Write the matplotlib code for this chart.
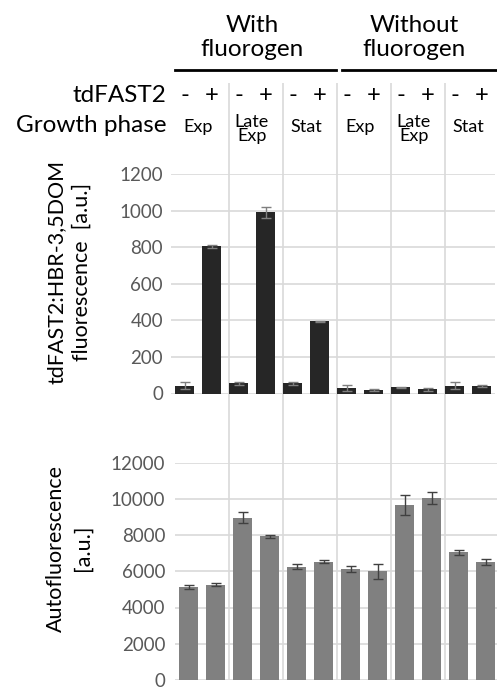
import matplotlib
matplotlib.use("Agg")
import matplotlib.pyplot as plt
import matplotlib.transforms as mtransforms
import numpy as np

plt.rcParams['font.family'] = ['Lato', 'DejaVu Sans']

# 12 conditions: (fluorogen with/without) x (Exp, Late Exp, Stat) x (tdFAST2 -, +)
tdfast2 = ['-', '+'] * 6
phases = ['Exp', 'Late\nExp', 'Stat'] * 2
fluorogen = ['With\nfluorogen', 'Without\nfluorogen']

signal = [42, 805, 55, 990, 55, 395, 30, 20, 33, 22, 42, 40]
signal_err = [20, 8, 10, 28, 10, 3, 15, 4, 4, 8, 20, 5]

auto = [5120, 5250, 8950, 7920, 6250, 6520, 6120, 6000, 9650, 10050, 7050, 6520]
auto_err = [100, 80, 300, 80, 150, 80, 150, 400, 550, 350, 150, 150]

W, H = 497, 689
fig = plt.figure(figsize=(W / 100, H / 100), dpi=100)


def box(left, right, top, bottom):
    return [left / W, 1 - bottom / H, (right - left) / W, (bottom - top) / H]


x = np.arange(12)
grid_c = '#d9d9d9'
tick_c = '#595959'

# separators between growth phases, spanning both panels
ov = fig.add_axes(box(175, 499, 83, 680), zorder=0)
ov.set_xlim(-0.5, 11.5)
ov.axis('off')
for b in np.arange(1.5, 11, 2):
    ov.axvline(b, color=grid_c, lw=1.2)

ax1 = fig.add_axes(box(171, 495, 174, 393.5), zorder=1)
ax2 = fig.add_axes(box(175, 499, 462.5, 680), zorder=1)

ax1.bar(x, signal, width=0.7, color='#262626', zorder=2)
ax1.errorbar(x, signal, yerr=signal_err, fmt='none', ecolor='#7f7f7f',
             elinewidth=1, capsize=3.5, capthick=1, zorder=3)
ax1.set_ylim(0, 1200)
ax1.set_yticks(np.arange(0, 1201, 200))

ax2.bar(x, auto, width=0.7, color='#808080', zorder=2)
ax2.errorbar(x, auto, yerr=auto_err, fmt='none', ecolor='#404040',
             elinewidth=1, capsize=3.5, capthick=1, zorder=3)
ax2.set_ylim(0, 12000)
ax2.set_yticks(np.arange(0, 12001, 2000))

for ax, pad in ((ax1, 5.8), (ax2, 7)):
    ax.set_facecolor('none')
    ax.set_xlim(-0.5, 11.5)
    ax.set_xticks([])
    for s in ax.spines.values():
        s.set_visible(False)
    ax.yaxis.grid(True, color=grid_c, lw=1.2, zorder=0)
    ax.tick_params(axis='y', length=0, pad=pad, labelsize=13.5, labelcolor=tick_c)
    ax.set_axisbelow(True)
for lbl in ax2.get_yticklabels():
    lbl.set_verticalalignment('center_baseline')

# axis titles
fig.text(69 / W, 1 - 272 / H, 'tdFAST2:HBR-3,5DOM\nfluorescence  [a.u.]',
         rotation=90, ha='center', va='center', fontsize=15.5, linespacing=1.3)
fig.text(69 / W, 1 - 548 / H, 'Autofluorescence\n[a.u.]',
         rotation=90, ha='center', va='center', fontsize=15.5, linespacing=1.4)

# header rows above the top panel
hdr = mtransforms.blended_transform_factory(ax1.transData, fig.transFigure)
for i, s in enumerate(tdfast2):
    fig.text(x[i], 1 - 102 / H, s, transform=hdr, ha='center', va='baseline',
             fontsize=17)
for j, p in enumerate(phases):
    xc = 2 * j + 0.5
    if '\n' in p:
        fig.text(xc, 1 - 129 / H, p, transform=hdr, ha='center', va='center',
                 fontsize=13, linespacing=0.8)
    else:
        fig.text(xc, 1 - 132 / H, p, transform=hdr, ha='center', va='baseline',
                 fontsize=13)
for k, f in enumerate(fluorogen):
    top_line, bot_line = f.split('\n')
    xc = 6 * k + 2.5
    fig.text(xc, 1 - 32 / H, top_line, transform=hdr, ha='center',
             va='baseline', fontsize=17.5)
    fig.text(xc, 1 - 56 / H, bot_line, transform=hdr, ha='center',
             va='baseline', fontsize=17.5)

fig.text(166 / W, 1 - 102 / H, 'tdFAST2', ha='right', va='baseline', fontsize=17.5)
fig.text(166 / W, 1 - 132 / H, 'Growth phase', ha='right', va='baseline',
         fontsize=17.5)

# brackets under the fluorogen headers
fig.add_artist(plt.Line2D([175 / W, 336 / W], [1 - 70 / H] * 2, color='black',
                          lw=2))
fig.add_artist(plt.Line2D([342 / W, 497 / W], [1 - 70 / H] * 2, color='black',
                          lw=2))

fig.savefig('out.png', dpi=100)
